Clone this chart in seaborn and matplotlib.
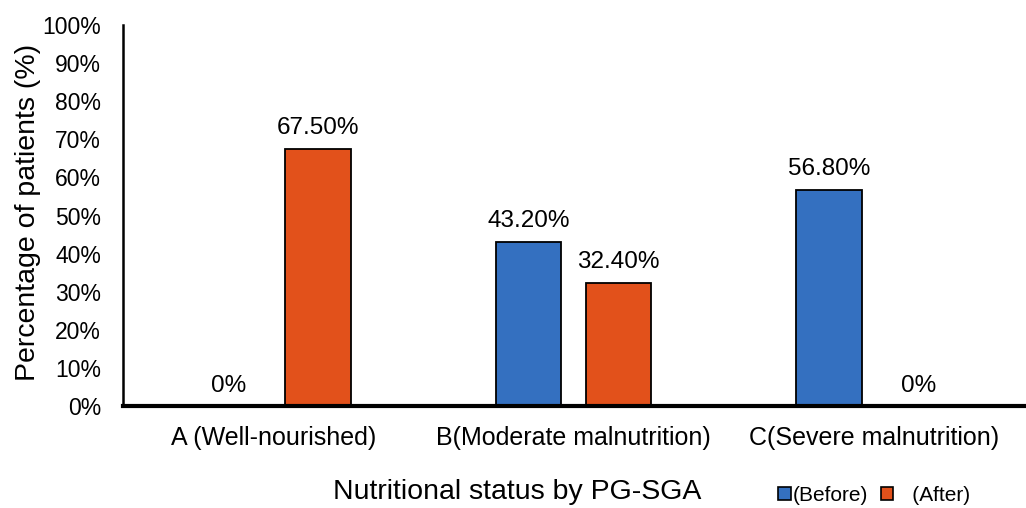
import matplotlib
matplotlib.use("Agg")
import matplotlib.pyplot as plt
import seaborn as sns
import pandas as pd
from matplotlib.patches import Patch
from matplotlib.ticker import FuncFormatter

categories = ["A (Well-nourished)", "B(Moderate malnutrition)", "C(Severe malnutrition)"]
before = [0.0, 43.2, 56.8]
after = [67.5, 32.4, 0.0]
series = ["(Before)", "(After)"]
colors = {"(Before)": "#3470C0", "(After)": "#E2511B"}

sns.set_style("white")
plt.rcParams["font.family"] = ["Liberation Sans", "DejaVu Sans"]
plt.rcParams["text.color"] = "black"
plt.rcParams["axes.labelcolor"] = "black"
plt.rcParams["xtick.color"] = "black"
plt.rcParams["ytick.color"] = "black"
plt.rcParams["axes.edgecolor"] = "black"

df = pd.DataFrame({
    "category": categories * 2,
    "series": [series[0]] * 3 + [series[1]] * 3,
    "value": before + after,
})

fig = plt.figure(figsize=(10.26, 5.08), dpi=100)
ax = fig.add_axes([0.12, 0.2, 0.878, 0.751])
sns.barplot(data=df, x="category", y="value", hue="series", order=categories,
            hue_order=series, palette=colors, saturation=1, width=0.6, gap=0.27,
            edgecolor="black", linewidth=1.3, legend=False, ax=ax)

for cont in ax.containers:
    vals = cont.datavalues
    labels = [f"{v:.2f}%" if v > 0 else "0%" for v in vals]
    ax.bar_label(cont, labels=labels, padding=7, fontsize=17.5)

ax.set_ylim(0, 100)
ax.set_yticks(range(0, 101, 10))
ax.yaxis.set_major_formatter(FuncFormatter(lambda v, p: f"{v:.0f}%"))
ax.tick_params(axis="y", labelsize=16.5, length=0, pad=16)
ax.tick_params(axis="x", labelsize=18, length=0, pad=14)
ax.set_xlim(-0.5, 2.5)
ax.set_ylabel("")
fig.text(28 / 1026, 1 - 212 / 508, "Percentage of patients (%)", rotation=90,
         ha="center", va="center", fontsize=20.5)
ax.set_xlabel("Nutritional status by PG-SGA", fontsize=20.5)
ax.xaxis.set_label_coords(0.438, -0.19)
sns.despine(ax=ax)
ax.spines["left"].set_linewidth(1.8)
ax.spines["bottom"].set_linewidth(3)

handles = [Patch(facecolor=colors[s], edgecolor="black", linewidth=1.2) for s in series]
fig.legend(handles, ["(Before)", "   (After)"], loc="center", bbox_to_anchor=(0.852, 0.025),
           ncol=2, frameon=False, fontsize=15, handlelength=0.6, handleheight=0.6,
           handletextpad=0.1, columnspacing=0.6, borderpad=0)

fig.savefig("out.png", dpi=100)
